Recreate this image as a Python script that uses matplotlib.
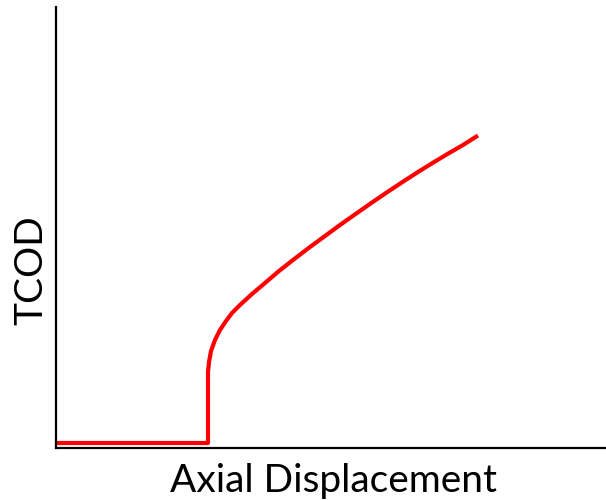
import matplotlib.pyplot as plt

# schematic curve (arbitrary units)
disp = [1, 152, 152, 153, 155, 159, 164, 170, 176, 184, 196, 209, 223,
        237, 254, 269, 284, 301, 316, 332, 347, 362, 377, 392, 407, 422]
tcod = [5, 5, 76, 86, 97, 108, 118, 127, 135, 143, 154, 165, 177,
        188, 201, 212, 223, 235, 245.5, 256.4, 266.3, 276, 285.3, 294.3, 303, 312.5]
xlabel = "Axial Displacement"
ylabel = "TCOD"

plt.rcParams['font.family'] = ['Lato', 'DejaVu Sans']

fig = plt.figure(figsize=(6.06, 5.0), dpi=100)
ax = fig.add_axes([56 / 606, 52 / 500, 549 / 606, 441 / 500])

ax.plot(disp, tcod, color='red', lw=3.0, solid_capstyle='butt',
        solid_joinstyle='round')
ax.set_xlim(0, 549)
ax.set_ylim(0, 441)

for s in ['top', 'right']:
    ax.spines[s].set_visible(False)
for s in ['left', 'bottom']:
    ax.spines[s].set_linewidth(1.6)
ax.set_xticks([])
ax.set_yticks([])

ax.text(0.506, -0.0998, xlabel, transform=ax.transAxes, fontsize=28,
        ha='center', va='baseline')
ax.text(-0.0255, 0.404, ylabel, transform=ax.transAxes, fontsize=28,
        ha='center', va='baseline', rotation=90, rotation_mode='anchor')

fig.savefig('out.png', dpi=100)
